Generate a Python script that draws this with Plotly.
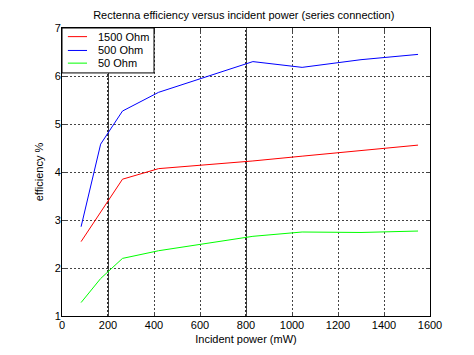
import plotly.graph_objects as go

power_mw = [83, 168, 263, 420, 830, 1044, 1300, 1548]
eff_1500 = [2.55, 3.17, 3.85, 4.07, 4.23, 4.33, 4.45, 4.56]
eff_500 = [2.86, 4.58, 5.27, 5.66, 6.30, 6.18, 6.34, 6.45]
eff_50 = [1.28, 1.78, 2.20, 2.36, 2.66, 2.75, 2.74, 2.77]

series_names = ["1500 Ohm", "500 Ohm", "50 Ohm"]
series_colors = ["#ff0000", "#0000ff", "#00ff00"]

x_ticks = [0, 200, 400, 600, 800, 1000, 1200, 1400, 1600]
y_ticks = [1, 2, 3, 4, 5, 6, 7]

FONT = "Liberation Sans, Arial, sans-serif"

fig = go.Figure()
for name, ys, col in zip(series_names, [eff_1500, eff_500, eff_50], series_colors):
    fig.add_trace(go.Scatter(x=power_mw, y=ys, mode="lines", name=name,
                             line=dict(color=col, width=1), showlegend=False))

for xv in [200, 800]:
    fig.add_vline(x=xv, line=dict(color="black", width=1.6, dash="2px,2px"), layer="below")

# manual legend box (MATLAB style, compact)
fig.add_shape(type="rect", xref="paper", yref="paper", x0=0, x1=0.25, y0=0.844, y1=1,
              line=dict(color="black", width=1), fillcolor="white", layer="above")
entry_y = [0.970, 0.922, 0.878]
for name, col, yy in zip(series_names, series_colors, entry_y):
    fig.add_shape(type="line", xref="paper", yref="paper", x0=0.016, x1=0.068, y0=yy, y1=yy,
                  line=dict(color=col, width=1), layer="above")
    fig.add_annotation(xref="paper", yref="paper", x=0.093, y=yy, text=name,
                       showarrow=False, xanchor="left", yanchor="middle", align="left",
                       width=56,
                       font=dict(size=11, family=FONT, color="black"))

# page body has an 8px margin, so the figure is sized/offset to compensate
fig.update_layout(
    template="none",
    width=466, height=347,
    margin=dict(l=54, r=44, t=20, b=39),
    paper_bgcolor="white", plot_bgcolor="white",
    font=dict(family=FONT, size=11, color="black"),
    title=dict(text="Rectenna efficiency versus incident power (series connection)",
               x=0.506, xanchor="center", y=0.98, yanchor="middle",
               font=dict(size=11)),
    showlegend=False,
)
fig.update_xaxes(range=[0, 1600], tickvals=x_ticks, ticks="inside", ticklen=4,
                 showline=True, linecolor="black", linewidth=1, mirror="ticks",
                 showgrid=True, gridcolor="#444444", griddash="2px,2px", gridwidth=1,
                 zeroline=False, automargin=False, ticklabelstandoff=-1,
                 title=dict(text="Incident power (mW)", standoff=5, font=dict(size=11)))
fig.update_yaxes(range=[1, 7], tickvals=y_ticks, ticks="inside", ticklen=4,
                 showline=True, linecolor="black", linewidth=1, mirror="ticks",
                 showgrid=True, gridcolor="#444444", griddash="2px,2px", gridwidth=1,
                 zeroline=False, automargin=False, ticklabelstandoff=-2,
                 title=dict(text="efficiency %", standoff=8, font=dict(size=11)))

fig.write_html("out.html")
